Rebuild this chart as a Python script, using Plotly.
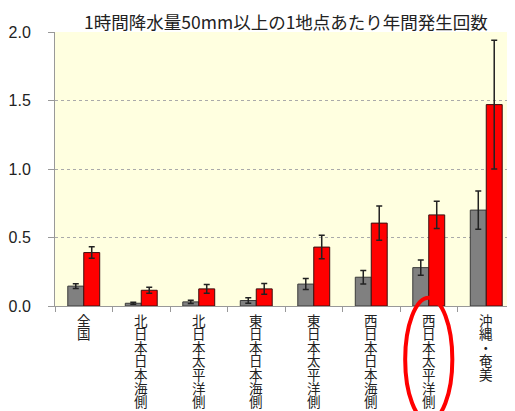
import plotly.graph_objects as go

categories = ["全国", "北日本日本海側", "北日本太平洋側", "東日本日本海側",
              "東日本太平洋側", "西日本日本海側", "西日本太平洋側", "沖縄・奄美"]
gray_values = [0.145, 0.02, 0.03, 0.04, 0.16, 0.21, 0.28, 0.70]
gray_errors = [0.018, 0.008, 0.012, 0.02, 0.04, 0.05, 0.056, 0.14]
red_values = [0.39, 0.115, 0.125, 0.125, 0.43, 0.605, 0.665, 1.47]
red_errors = [0.042, 0.022, 0.032, 0.04, 0.086, 0.125, 0.1, 0.47]
highlight = "西日本太平洋側"
title_text = "1時間降水量50mm以上の1地点あたり年間発生回数"
y_ticks = [0.0, 0.5, 1.0, 1.5, 2.0]

idx = list(range(len(categories)))

fig = go.Figure()
fig.add_trace(go.Bar(
    x=idx, y=gray_values,
    marker=dict(color="#808080", line=dict(color="#3a3a3a", width=1)),
    error_y=dict(type="data", array=gray_errors, color="#222222", thickness=1.5, width=3),
    showlegend=False,
))
fig.add_trace(go.Bar(
    x=idx, y=red_values,
    marker=dict(color="#FF0000", line=dict(color="#3a1010", width=1)),
    error_y=dict(type="data", array=red_errors, color="#222222", thickness=1.5, width=3),
    showlegend=False,
))

# vertical category labels, one character per line
annotations = []
for i, label in enumerate(categories):
    for j, ch in enumerate(label):
        annotations.append(dict(
            x=i, y=0, xref="x", yref="paper", text=ch, showarrow=False,
            xanchor="center", yanchor="middle", yshift=-(13.5 + j * 13.6),
            font=dict(family="Noto Sans CJK JP", size=13.5, color="#222222"),
        ))

hi = categories.index(highlight)
shapes = [dict(
    type="circle", xref="x", yref="paper",
    x0=hi - 0.41, x1=hi + 0.41, y0=-0.42, y1=0.03,
    line=dict(color="#FF0000", width=4), fillcolor="rgba(0,0,0,0)", layer="above",
)]

# the page body has an 8px margin; figure is sized/offset to compensate
fig.update_layout(
    width=507, height=403,
    margin=dict(l=47, r=0, t=24, b=105),
    paper_bgcolor="white",
    plot_bgcolor="#FFFFE0",
    barmode="group", bargap=0.445, bargroupgap=0,
    title=dict(text=title_text, x=(286 - 8) / 507, xanchor="center",
               y=1 - (22.5 - 8) / 403, yanchor="middle",
               font=dict(family="Noto Sans CJK JP", size=17.5, color="#222222")),
    annotations=annotations,
    shapes=shapes,
    xaxis=dict(
        range=[-0.5, len(categories) - 0.5],
        tickmode="array",
        tickvals=[k - 0.5 for k in range(len(categories) + 1)],
        ticktext=[""] * (len(categories) + 1),
        ticks="outside", ticklen=5, tickcolor="#999999",
        showline=True, linecolor="#999999", linewidth=1,
        showgrid=False, zeroline=False,
    ),
    yaxis=dict(
        range=[0, 2.0],
        tickmode="array", tickvals=y_ticks,
        ticktext=[f"{v:.1f}" for v in y_ticks],
        ticks="outside", ticklen=6, tickcolor="#999999",
        showline=True, linecolor="#999999", linewidth=1,
        showgrid=True, gridcolor="#AAAAAA", griddash="dot", gridwidth=1,
        zeroline=False,
        ticklabelstandoff=14,
        tickfont=dict(family="Liberation Sans", size=16, color="#222222"),
    ),
)

fig.write_html("out.html")
